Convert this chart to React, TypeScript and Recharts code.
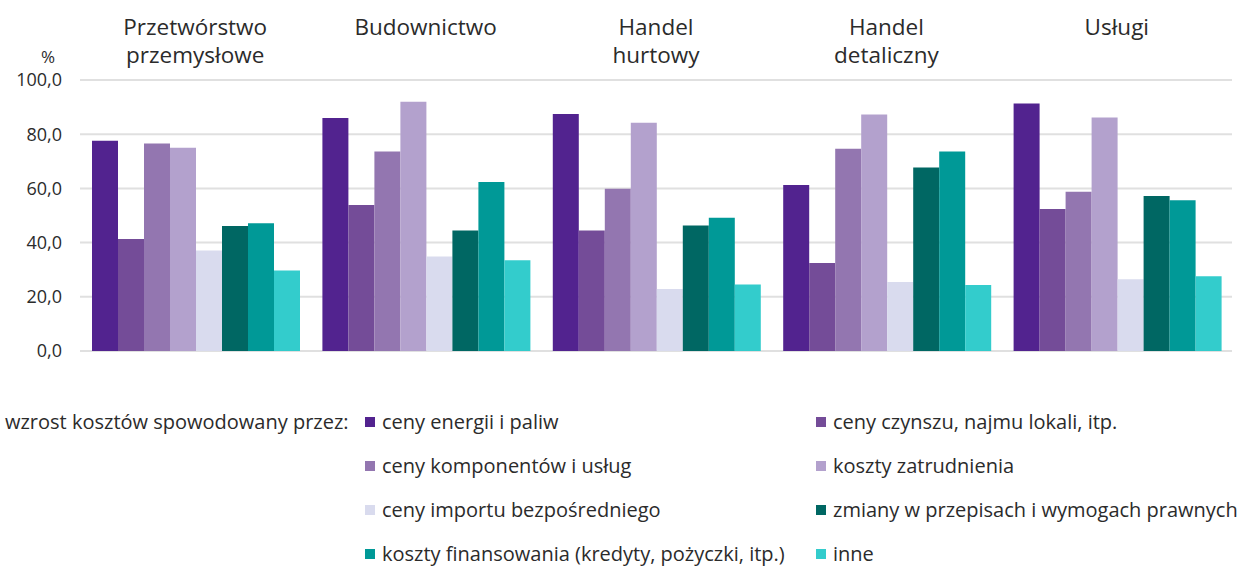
import { Bar, BarChart, CartesianGrid, Legend, XAxis, YAxis } from "recharts";

const categories = [
  "Przetwórstwo\nprzemysłowe",
  "Budownictwo",
  "Handel\nhurtowy",
  "Handel\ndetaliczny",
  "Usługi",
];

const seriesNames = [
  "ceny energii i paliw",
  "ceny czynszu, najmu lokali, itp.",
  "ceny komponentów i usług",
  "koszty zatrudnienia",
  "ceny importu bezpośredniego",
  "zmiany w przepisach i wymogach prawnych",
  "koszty finansowania (kredyty, pożyczki, itp.)",
  "inne",
];

const energia = [77.6, 86.0, 87.5, 61.3, 91.3];
const czynsz = [41.3, 53.9, 44.5, 32.5, 52.4];
const komponenty = [76.6, 73.6, 59.9, 74.6, 58.8];
const zatrudnienie = [75.0, 92.0, 84.2, 87.3, 86.2];
const importBezp = [37.1, 34.9, 22.9, 25.5, 26.5];
const przepisy = [46.1, 44.5, 46.3, 67.7, 57.2];
const finansowanie = [47.1, 62.4, 49.2, 73.6, 55.6];
const inne = [29.7, 33.5, 24.5, 24.4, 27.6];

const yTicks = [0, 20, 40, 60, 80, 100];

const colors = [
  "#52238f",
  "#744c98",
  "#9376b0",
  "#b3a1cd",
  "#d9dbee",
  "#006763",
  "#009997",
  "#33cccc",
];

const allSeries = [energia, czynsz, komponenty, zatrudnienie, importBezp, przepisy, finansowanie, inne];

const data = categories.map((name, i) => {
  const row: Record<string, string | number> = { name };
  allSeries.forEach((s, k) => {
    row["s" + k] = s[i];
  });
  return row;
});

const font = '"Open Sans", sans-serif';
const textColor = "#2b2b2b";

function CategoryTick(props: any) {
  const { x, payload } = props;
  const lines = String(payload.value).split("\n");
  return (
    <text x={x} textAnchor="middle" fill={textColor} fontSize={22.5} fontFamily={font}>
      {lines.map((line, i) => (
        <tspan key={i} x={x} y={35 + i * 28}>
          {line}
        </tspan>
      ))}
    </text>
  );
}

// legend keeps the series order (recharts would sort it by name)
function LegendBox() {
  const colX = [365, 816];
  const rowY = [71, 115, 159, 203];
  return (
    <div style={{ position: "relative", width: 1239, height: 215, fontFamily: font, fontSize: 20, color: textColor }}>
      <div style={{ position: "absolute", left: 5, top: rowY[0] - 14, lineHeight: "28px", whiteSpace: "nowrap" }}>
        wzrost kosztów spowodowany przez:
      </div>
      {seriesNames.map((n, i) => (
        <div
          key={n}
          style={{
            position: "absolute",
            left: colX[i % 2],
            top: rowY[Math.floor(i / 2)] - 14,
            lineHeight: "28px",
            whiteSpace: "nowrap",
            display: "flex",
            alignItems: "center",
          }}
        >
          <span style={{ display: "inline-block", width: 10, height: 10, background: colors[i], marginRight: 7 }} />
          {n}
        </div>
      ))}
    </div>
  );
}

export default function App() {
  return (
    <div style={{ position: "absolute", left: 0, top: 0, width: 1239, height: 566, background: "#fff" }}>
      <BarChart
        width={1239}
        height={566}
        data={data}
        margin={{ top: 0, right: 7, bottom: 0, left: 0 }}
        barCategoryGap={12}
        barGap={0}
        style={{ fontFamily: font }}
      >
        <CartesianGrid vertical={false} stroke="#e0e0e0" strokeWidth={2} />
        <XAxis
          dataKey="name"
          orientation="top"
          height={80}
          axisLine={false}
          tickLine={false}
          tickSize={0}
          interval={0}
          tick={<CategoryTick />}
        />
        <YAxis
          width={80}
          domain={[0, 100]}
          ticks={yTicks}
          axisLine={false}
          tickLine={false}
          tickSize={0}
          tickMargin={18}
          tick={{ fill: textColor, fontSize: 18, fontFamily: font }}
          tickFormatter={(v: number) => v.toFixed(1).replace(".", ",")}
          label={({ viewBox }: any) => (
            <text x={viewBox.x + 48} y={viewBox.y - 17} textAnchor="middle" fill={textColor} fontSize={17} fontFamily={font}>
              %
            </text>
          )}
        />
        <Legend verticalAlign="bottom" height={215} content={<LegendBox />} wrapperStyle={{ left: 0, width: 1239 }} />
        {seriesNames.map((n, k) => (
          <Bar key={n} dataKey={"s" + k} name={n} fill={colors[k]} isAnimationActive={false} />
        ))}
      </BarChart>
    </div>
  );
}
